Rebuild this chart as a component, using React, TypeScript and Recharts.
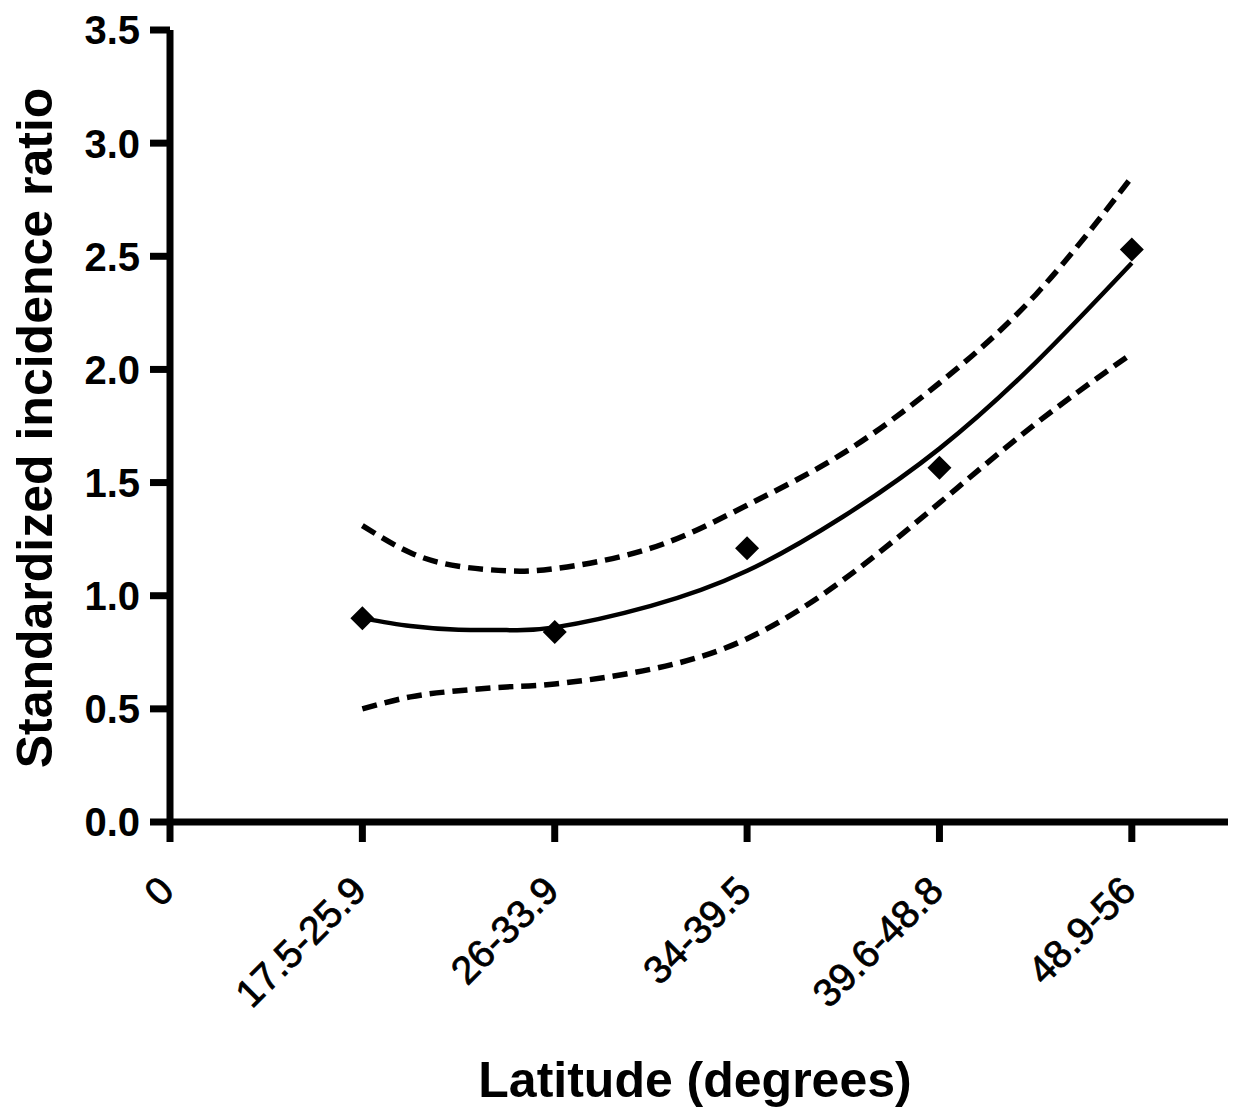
import React from 'react';
import { ComposedChart, Line, Scatter, XAxis, YAxis } from 'recharts';

// ---- data ----
const categories = ['0', '17.5-25.9', '26-33.9', '34-39.5', '39.6-48.8', '48.9-56'];
const categoryPositions = [0, 1, 2, 3, 4, 5];

// observed standardized incidence ratios (one per latitude band, bands 1..5)
const observedSIR = [0.9, 0.84, 1.21, 1.565, 2.53];

// fitted curve and its confidence band, read along the x axis
const curveX = [1, 1.25, 1.5, 1.75, 2, 2.5, 3, 3.5, 4, 4.5, 5];
const fitSIR = [0.9, 0.866, 0.85, 0.848, 0.86, 0.955, 1.11, 1.35, 1.65, 2.03, 2.47];
const upperCI = [1.31, 1.19, 1.13, 1.11, 1.12, 1.21, 1.4, 1.63, 1.94, 2.33, 2.85];
const lowerCI = [0.5, 0.553, 0.58, 0.597, 0.61, 0.675, 0.81, 1.07, 1.41, 1.76, 2.07];

const yTicks = [0, 0.5, 1, 1.5, 2, 2.5, 3, 3.5];
const yTickLabels = ['0.0', '0.5', '1.0', '1.5', '2.0', '2.5', '3.0', '3.5'];

const xLabel = 'Latitude (degrees)';
const yLabel = 'Standardized incidence ratio';

// ---- tables built for recharts ----
const pointData = observedSIR.map((v, i) => ({ x: categoryPositions[i + 1], sir: v }));
const fitData = curveX.map((x, i) => ({ x, v: fitSIR[i] }));
const upperData = curveX.map((x, i) => ({ x, v: upperCI[i] }));
const lowerData = curveX.map((x, i) => ({ x, v: lowerCI[i] }));

const FONT = '"Liberation Sans", Arial, Helvetica, sans-serif';

const XTick = (props: any) => {
  const { x, y, payload } = props;
  const idx = categoryPositions.indexOf(payload.value);
  return (
    <g transform={`translate(${x + 6},${y + 49})`}>
      <text textAnchor="end" transform="rotate(-45)" fontSize={39} fontFamily={FONT} fill="#000" stroke="#000" strokeWidth={0.8}>
        {categories[idx]}
      </text>
    </g>
  );
};

const YTick = (props: any) => {
  const { x, y, payload } = props;
  const idx = yTicks.indexOf(payload.value);
  return (
    <text x={x} y={y} dy="0.36em" textAnchor="end" fontSize={40} fontWeight="bold" fontFamily={FONT} fill="#000">
      {yTickLabels[idx]}
    </text>
  );
};

const Diamond = (props: any) => {
  const { cx, cy } = props;
  const r = 12;
  return <polygon points={`${cx},${cy - r} ${cx + r},${cy} ${cx},${cy + r} ${cx - r},${cy}`} fill="#000" />;
};

const XLabelContent = (props: any) => {
  const vb = props.viewBox || {};
  return (
    <text x={vb.x + vb.width / 2 - 4} y={vb.y + 275} textAnchor="middle" fontSize={50} fontWeight="bold" fontFamily={FONT} fill="#000">
      {xLabel}
    </text>
  );
};

const YLabelContent = (props: any) => {
  const vb = props.viewBox || {};
  const cx = vb.x + 2;
  const cy = vb.y + vb.height / 2 + 2;
  return (
    <text x={cx} y={cy} transform={`rotate(-90, ${cx}, ${cy})`} textAnchor="middle" fontSize={50} fontWeight="bold" fontFamily={FONT} fill="#000">
      {yLabel}
    </text>
  );
};

export default function App() {
  return (
    <div style={{ position: 'absolute', left: 0, top: 0, width: 1241, height: 1114, background: '#fff' }}>
      <ComposedChart width={1241} height={1114} margin={{ top: 30, right: 13, bottom: 92, left: 50 }}>
        <XAxis
          dataKey="x"
          type="number"
          domain={[0, 5.5]}
          ticks={categoryPositions}
          interval={0}
          height={200}
          tickSize={20}
          tickMargin={2}
          axisLine={{ stroke: '#000', strokeWidth: 7 }}
          tickLine={{ stroke: '#000', strokeWidth: 7 }}
          tick={<XTick />}
          label={<XLabelContent />}
          allowDataOverflow
        />
        <YAxis
          type="number"
          domain={[0, 3.5]}
          ticks={yTicks}
          interval={0}
          width={120}
          tickSize={20}
          tickMargin={10}
          axisLine={{ stroke: '#000', strokeWidth: 7 }}
          tickLine={{ stroke: '#000', strokeWidth: 7 }}
          tick={<YTick />}
          label={<YLabelContent />}
          allowDataOverflow
        />
        <Line data={upperData} dataKey="v" type="natural" stroke="#000" strokeWidth={5.5} strokeDasharray="15 8" dot={false} activeDot={false} isAnimationActive={false} />
        <Line data={lowerData} dataKey="v" type="natural" stroke="#000" strokeWidth={5.5} strokeDasharray="15 8" dot={false} activeDot={false} isAnimationActive={false} />
        <Line data={fitData} dataKey="v" type="natural" stroke="#000" strokeWidth={4.5} dot={false} activeDot={false} isAnimationActive={false} />
        <Scatter data={pointData} dataKey="sir" fill="#000" shape={<Diamond />} isAnimationActive={false} />
      </ComposedChart>
    </div>
  );
}
